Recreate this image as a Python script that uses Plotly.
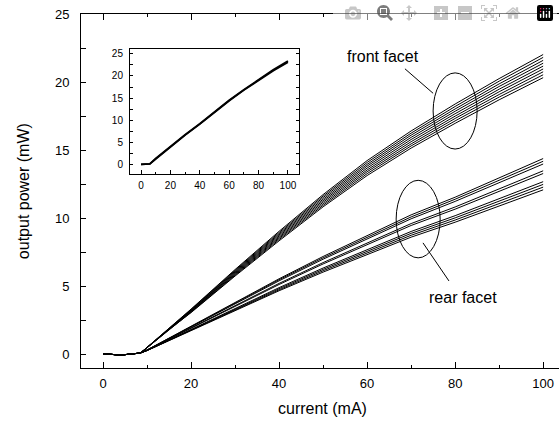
import plotly.graph_objects as go

# ---- data ----
current = [0, 4, 8.5, 10, 15, 20, 30, 40, 50, 60, 70, 80, 90, 100]

front_1 = [0.05, -0.05, 0.1, 0.48, 1.82, 3.07, 5.76, 8.35, 10.85, 13.15, 15.17, 16.99, 18.72, 20.35]
front_2 = [0.05, -0.05, 0.1, 0.49, 1.84, 3.10, 5.82, 8.44, 10.96, 13.29, 15.33, 17.17, 18.92, 20.56]
front_3 = [0.05, -0.05, 0.1, 0.49, 1.86, 3.14, 5.88, 8.53, 11.07, 13.43, 15.48, 17.35, 19.11, 20.78]
front_4 = [0.05, -0.05, 0.1, 0.50, 1.88, 3.17, 5.94, 8.61, 11.19, 13.56, 15.64, 17.52, 19.31, 20.99]
front_5 = [0.05, -0.05, 0.1, 0.50, 1.90, 3.20, 6.00, 8.70, 11.30, 13.70, 15.80, 17.70, 19.50, 21.20]
front_6 = [0.05, -0.05, 0.1, 0.51, 1.92, 3.23, 6.06, 8.79, 11.41, 13.84, 15.96, 17.88, 19.70, 21.41]
front_7 = [0.05, -0.05, 0.1, 0.51, 1.94, 3.26, 6.12, 8.87, 11.53, 13.97, 16.12, 18.05, 19.89, 21.62]
front_8 = [0.05, -0.05, 0.1, 0.52, 1.96, 3.30, 6.18, 8.96, 11.64, 14.11, 16.27, 18.23, 20.09, 21.84]
front_9 = [0.05, -0.05, 0.1, 0.52, 1.98, 3.33, 6.24, 9.05, 11.75, 14.25, 16.43, 18.41, 20.28, 22.05]

rear_1 = [0.05, -0.05, 0.1, 0.28, 1.01, 1.74, 3.21, 4.68, 6.05, 7.34, 8.62, 9.72, 10.91, 12.10]
rear_2 = [0.05, -0.05, 0.1, 0.28, 1.03, 1.77, 3.26, 4.75, 6.15, 7.46, 8.76, 9.88, 11.09, 12.30]
rear_3 = [0.05, -0.05, 0.1, 0.28, 1.04, 1.80, 3.31, 4.83, 6.25, 7.58, 8.90, 10.04, 11.27, 12.50]
rear_4 = [0.05, -0.05, 0.1, 0.29, 1.06, 1.83, 3.37, 4.91, 6.35, 7.70, 9.04, 10.20, 11.45, 12.70]
rear_5 = [0.05, -0.05, 0.1, 0.30, 1.11, 1.92, 3.53, 5.14, 6.65, 8.06, 9.48, 10.68, 12.00, 13.30]
rear_6 = [0.05, -0.05, 0.1, 0.31, 1.13, 1.94, 3.58, 5.22, 6.75, 8.18, 9.62, 10.84, 12.17, 13.50]
rear_7 = [0.05, -0.05, 0.1, 0.32, 1.17, 2.02, 3.71, 5.41, 7.00, 8.49, 9.97, 11.25, 12.63, 14.00]
rear_8 = [0.05, -0.05, 0.1, 0.32, 1.18, 2.04, 3.77, 5.49, 7.10, 8.61, 10.11, 11.41, 12.80, 14.20]
rear_9 = [0.05, -0.05, 0.1, 0.33, 1.20, 2.07, 3.82, 5.56, 7.20, 8.73, 10.26, 11.56, 12.98, 14.40]

inset_current = [0, 5, 6, 10, 20, 30, 40, 50, 60, 70, 80, 90, 100]
inset_a = [0, 0, 0.1, 1.2, 4.0, 6.6, 9.1, 11.8, 14.4, 16.8, 19.1, 21.2, 23.1]
inset_b = [0, 0, 0.1, 1.3, 4.1, 6.7, 9.2, 11.9, 14.5, 16.9, 19.2, 21.4, 23.4]

main_x_ticks = [0, 20, 40, 60, 80, 100]
main_y_ticks = [0, 5, 10, 15, 20, 25]
inset_x_ticks = [0, 20, 40, 60, 80, 100]
inset_y_ticks = [0, 5, 10, 15, 20, 25]

front_curves = [front_1, front_2, front_3, front_4, front_5, front_6, front_7, front_8, front_9]
rear_curves = [rear_1, rear_2, rear_3, rear_4, rear_5, rear_6, rear_7, rear_8, rear_9]

FONT = "Arial, Liberation Sans, sans-serif"
X_RANGE = [-5, 103.6]
Y_RANGE = [-1, 25.03]

fig = go.Figure()
for ys in front_curves + rear_curves:
    fig.add_trace(go.Scatter(x=current, y=ys, mode="lines",
                             line=dict(color="black", width=1), showlegend=False,
                             xaxis="x", yaxis="y"))
for ys in [inset_a, inset_b]:
    fig.add_trace(go.Scatter(x=inset_current, y=ys, mode="lines",
                             line=dict(color="black", width=1.8), showlegend=False,
                             xaxis="x2", yaxis="y2"))

axis_common = dict(showgrid=False, zeroline=False, showline=True, linecolor="black",
                   linewidth=1, ticks="inside", tickcolor="black", automargin=False)

fig.update_layout(
    width=559, height=432,
    margin=dict(l=81, r=0, t=14, b=64),
    paper_bgcolor="white", plot_bgcolor="white",
    font=dict(family=FONT, color="black"),
    xaxis=dict(**axis_common, range=X_RANGE, tickvals=main_x_ticks, ticklen=6,
               mirror="ticks", tickfont=dict(size=13), ticklabelstandoff=3,
               minor=dict(dtick=10, tick0=0, ticklen=3, ticks="inside", tickcolor="black")),
    yaxis=dict(**axis_common, range=Y_RANGE, tickvals=main_y_ticks, ticklen=5,
               mirror=False, tickfont=dict(size=13), ticklabelstandoff=8,
               ticklabeloverflow="allow",
               minor=dict(dtick=2.5, tick0=0, ticklen=5, ticks="inside", tickcolor="black")),
    xaxis2=dict(**axis_common, domain=[0.1025, 0.456], anchor="y2", range=[-7.5, 107.5],
                tickvals=inset_x_ticks, ticklen=4, mirror=True, tickfont=dict(size=10),
                ticklabelstandoff=2,
                minor=dict(dtick=10, tick0=0, ticklen=2, ticks="inside", tickcolor="black")),
    yaxis2=dict(**axis_common, domain=[0.548, 0.901], anchor="x2", range=[-2.2, 26.1],
                tickvals=inset_y_ticks, ticklen=3, mirror="ticks", tickfont=dict(size=10),
                ticklabelstandoff=4,
                minor=dict(dtick=2.5, tick0=0, ticklen=3, ticks="inside", tickcolor="black")),
)

# axis titles
fig.add_annotation(x=0.506, y=-0.113, xref="paper", yref="paper", text="current (mA)",
                   showarrow=False, font=dict(size=16, family=FONT),
                   xanchor="center", yanchor="middle")
fig.add_annotation(x=-0.121, y=0.5, xref="paper", yref="paper", text="output power (mW)",
                   showarrow=False, textangle=-90, font=dict(size=16, family=FONT),
                   xanchor="center", yanchor="middle")

# ellipses marking the two bundles
fig.add_shape(type="circle", xref="x", yref="y", x0=75, x1=85, y0=15.1, y1=20.7,
              line=dict(color="black", width=1))
fig.add_shape(type="circle", xref="x", yref="y", x0=66.6, x1=76.6, y0=7.1, y1=12.8,
              line=dict(color="black", width=1))
# leader lines
fig.add_shape(type="line", xref="x", yref="y", x0=68.6, y0=21.0, x1=75.0, y1=19.2,
              line=dict(color="black", width=1))
fig.add_shape(type="line", xref="x", yref="y", x0=72.7, y0=8.2, x1=78.6, y1=5.4,
              line=dict(color="black", width=1))

fig.add_annotation(x=63.6, y=21.9, xref="x", yref="y", text="front facet", showarrow=False,
                   font=dict(size=16, family=FONT))
fig.add_annotation(x=81.8, y=4.2, xref="x", yref="y", text="rear facet", showarrow=False,
                   font=dict(size=16, family=FONT))

# remove the default page margin so the 559x432 figure fills the window exactly
fig.write_html("out.html",
               post_script="document.body.style.margin='0';document.body.style.overflow='hidden';")
